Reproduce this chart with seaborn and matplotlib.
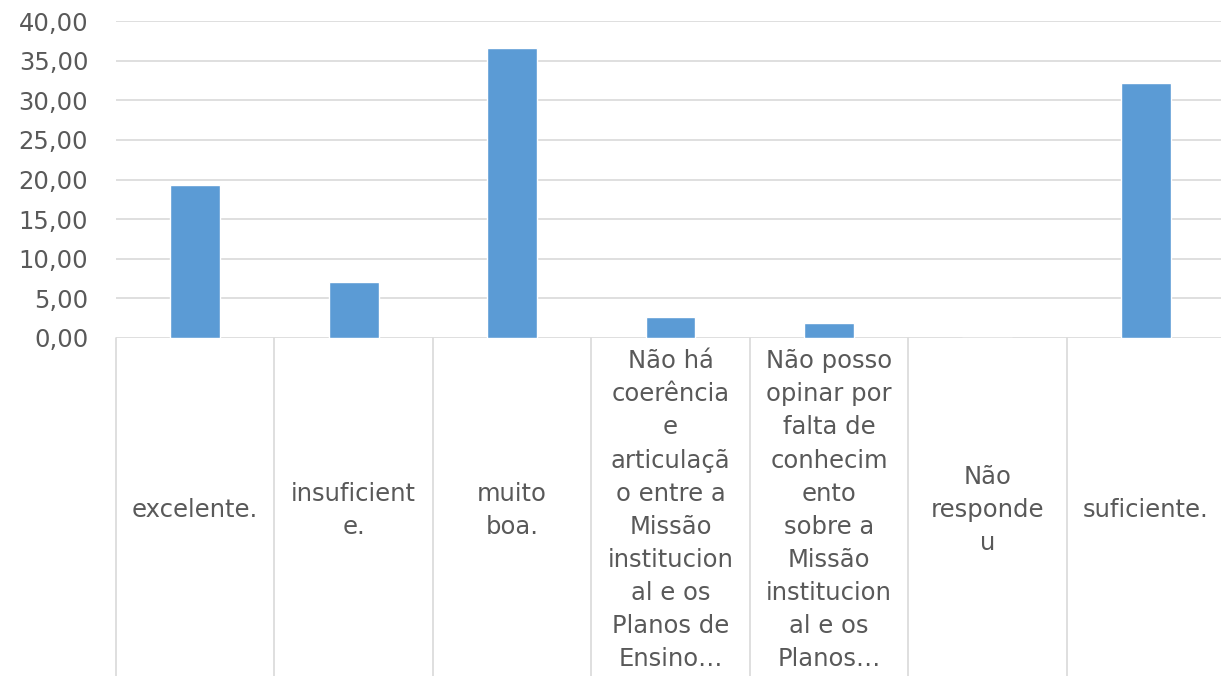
import pandas as pd
import seaborn as sns
import matplotlib.pyplot as plt
from matplotlib.ticker import FuncFormatter

categorias = ["excelente.", "insuficiente.", "muito boa.", "Não há coerência",
              "Não posso opinar", "Não respondeu", "suficiente."]
rotulos = [
    "excelente.",
    "insuficient\ne.",
    "muito\nboa.",
    "Não há\ncoerência\ne\narticulaçã\no entre a\nMissão\ninstitucion\nal e os\nPlanos de\nEnsino…",
    "Não posso\nopinar por\nfalta de\nconhecim\nento\nsobre a\nMissão\ninstitucion\nal e os\nPlanos…",
    "Não\nresponde\nu",
    "suficiente.",
]
valores = [19.30, 7.10, 36.60, 2.65, 1.95, 0.0, 32.15]

df = pd.DataFrame({"cat": categorias, "val": valores})

sns.set_style("white")
plt.rcParams['font.family'] = ['DejaVu Sans']

cinza = "#595959"
grade = "#D9D9D9"

fig = plt.figure(figsize=(12.21, 6.76), dpi=100)
ax = fig.add_axes([116 / 1221, 0.5, 1109 / 1221, 317 / 676])

sns.barplot(data=df, x="cat", y="val", order=categorias, color="#5B9BD5",
            width=0.315, saturation=1, ax=ax, zorder=3)

ax.set_xlim(-0.5, len(categorias) - 0.5)
ax.set_ylim(0, 40)
ax.set_yticks(range(0, 41, 5))
ax.yaxis.set_major_formatter(FuncFormatter(lambda v, p: f"{v:.2f}".replace(".", ",")))
ax.grid(axis="y", color=grade, linewidth=1.2, zorder=0)
ax.grid(axis="x", visible=False)
for s in ax.spines.values():
    s.set_visible(False)

ax.set_xlabel("")
ax.set_ylabel("")
ax.tick_params(axis="y", length=0, pad=20, labelsize=17.5, labelcolor=cinza)
ax.tick_params(axis="x", length=0, pad=124, labelsize=17.5, labelcolor=cinza)
ax.set_xticks(range(len(categorias)))
ax.set_xticklabels(rotulos, va="center", ha="center", linespacing=1.48)

# divisores das categorias
for i in range(len(categorias) + 1):
    ax.plot([i - 0.5, i - 0.5], [0, -43], color=grade, linewidth=1.2,
            clip_on=False, zorder=1)

fig.savefig("out.png", dpi=100)
